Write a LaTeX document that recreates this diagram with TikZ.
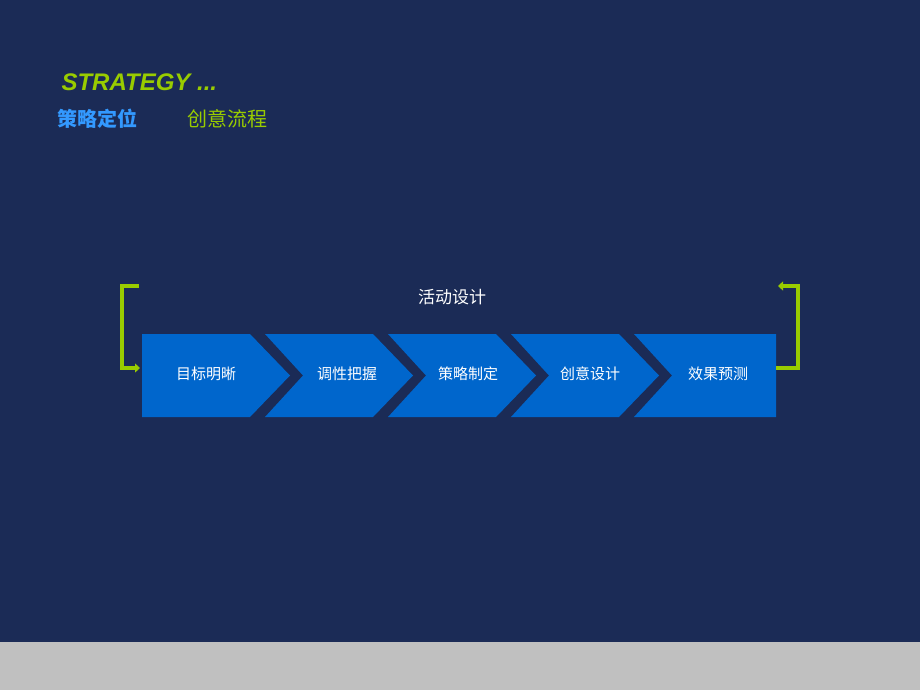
\documentclass[tikz,border=0pt]{standalone}
\usepackage{fontspec}
\setmainfont{Liberation Sans}
\newfontfamily\cjk{Noto Sans CJK SC}
\usetikzlibrary{arrows.meta}
\definecolor{bg}{HTML}{1B2B56}
\definecolor{chev}{HTML}{0066CC}
\definecolor{lime}{HTML}{99CC00}
\definecolor{ttl}{HTML}{3399FF}
\definecolor{bar}{HTML}{C0C0C0}
\begin{document}
\begin{tikzpicture}[x=1pt,y=-1pt,
  chevtxt/.style={text=white,font=\cjk\fontsize{15}{15}\selectfont},
  brk/.style={draw=lime,line width=4pt,-{Triangle[length=5pt,width=9pt]}}]
\fill[bg] (0,0) rectangle (920,690);
\fill[bar] (0,642) rectangle (920,690);
\useasboundingbox (0,0) rectangle (920,690);
\node[anchor=west,text=lime,font=\bfseries\itshape\fontsize{24}{24}\selectfont] (t) at (58,82) {STRATEGY ...};
\node[anchor=west,text=ttl,font=\cjk\bfseries\fontsize{20}{20}\selectfont] (s1) at (54,119) {策略定位};
\node[anchor=west,text=lime,font=\cjk\fontsize{20}{20}\selectfont] (s2) at (184,119) {创意流程};
\node[text=white,font=\cjk\fontsize{17}{17}\selectfont] (top) at (452,297) {活动设计};
% chevrons
\fill[chev] (142,334) -- (250,334) -- (290,375.5) -- (250,417) -- (142,417) -- cycle;
\foreach \s in {265,388,511}{
  \fill[chev] (\s,334) -- (\s+108,334) -- (\s+148,375.5) -- (\s+108,417) -- (\s,417) -- (\s+38,375.5) -- cycle;
}
\fill[chev] (634,334) -- (776,334) -- (776,417) -- (634,417) -- (672,375.5) -- cycle;
\node[chevtxt] (c1) at (206,374) {目标明晰};
\node[chevtxt] (c2) at (347,374) {调性把握};
\node[chevtxt] (c3) at (468,374) {策略制定};
\node[chevtxt] (c4) at (590,374) {创意设计};
\node[chevtxt] (c5) at (718,374) {效果预测};
\coordinate (la) at (139,286); \coordinate (lb) at (140,368);
\coordinate (ra) at (776,368); \coordinate (rb) at (778,286);
\draw[brk] (la) -- (122,286) -- (122,368) -- (lb);
\draw[brk] (ra) -- (798,368) -- (798,286) -- (rb);
\end{tikzpicture}
\end{document}
